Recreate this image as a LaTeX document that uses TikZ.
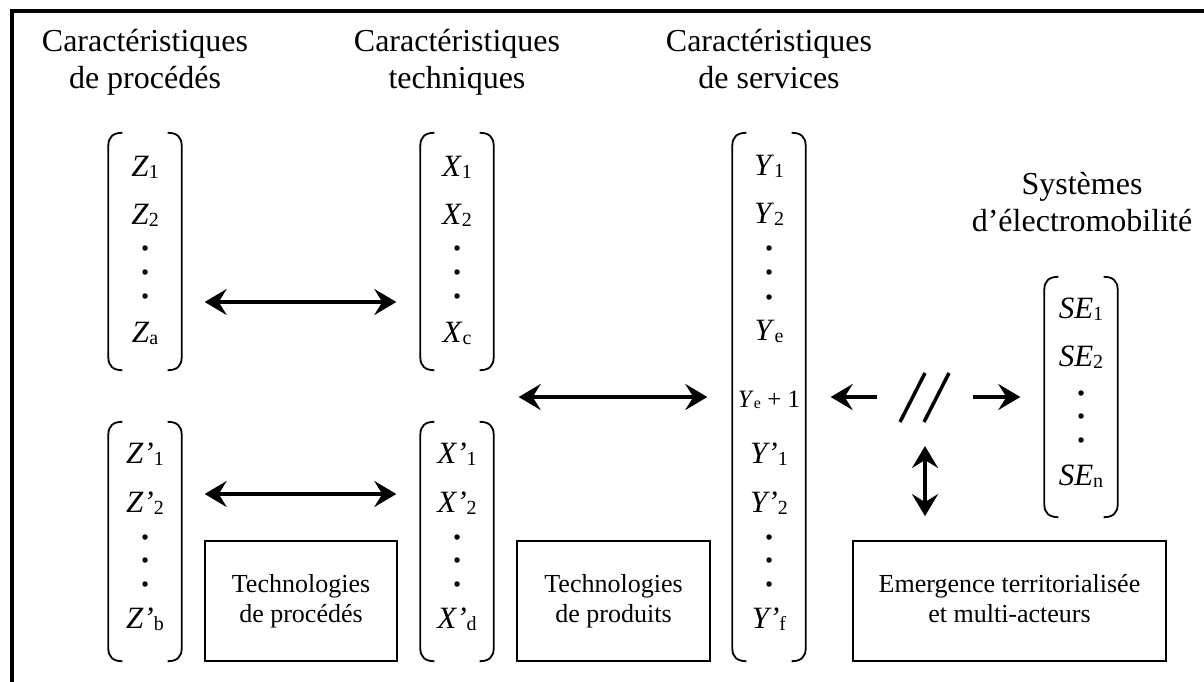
\documentclass[tikz,border=0pt]{standalone}
\usepackage{fontspec}
\setmainfont{Liberation Serif}
\usepackage{tikz}
\usetikzlibrary{arrows.meta}
\newcommand\hdrfont{\fontsize{32}{37}\selectfont}
\newcommand\entfont{\fontsize{31}{36}\selectfont}
\newcommand\boxfont{\fontsize{26}{30}\selectfont}
\newcommand\ix[2]{\textit{#1}\raisebox{-0.07em}{\fontsize{20}{20}\selectfont #2}}
\tikzset{
    hdr/.style={align=center, inner sep=0pt, font=\hdrfont},
    ent/.style={anchor=base, inner sep=0pt, font=\entfont},
    vdot/.style={circle, fill=black, inner sep=0pt, minimum size=5.5pt},
    mtx/.style={inner sep=0pt, minimum width=73pt},
    brkline/.style={line width=1.8pt},
    techbox/.style={draw, line width=1.8pt, align=center, font=\boxfont,
        inner sep=0pt, minimum height=120pt},
    % fleches doubles et simples
    dblarrow/.style={line width=3.5pt,
        {Stealth[length=22pt,width=26pt,inset=8pt]}-{Stealth[length=22pt,width=26pt,inset=8pt]}},
    onearrow/.style={line width=3.5pt, -{Stealth[length=22pt,width=26pt,inset=8pt]}},
    cutline/.style={line width=3.5pt}
}
\newcommand\brk[1]{%
    \draw[brkline] ([shift={(14,0)}]#1.north west) .. controls ([shift={(5,0)}]#1.north west) and ([shift={(0,4)}]#1.north west) .. ([shift={(0,13)}]#1.north west)
        -- ([shift={(0,-13)}]#1.south west) .. controls ([shift={(0,-4)}]#1.south west) and ([shift={(5,0)}]#1.south west) .. ([shift={(14,0)}]#1.south west);
    \draw[brkline] ([shift={(-14,0)}]#1.north east) .. controls ([shift={(-5,0)}]#1.north east) and ([shift={(0,4)}]#1.north east) .. ([shift={(0,13)}]#1.north east)
        -- ([shift={(0,-13)}]#1.south east) .. controls ([shift={(0,-4)}]#1.south east) and ([shift={(-5,0)}]#1.south east) .. ([shift={(-14,0)}]#1.south east);
}
\begin{document}
\begin{tikzpicture}[x=1pt,y=-1pt]
    \useasboundingbox (0,0) rectangle (1204,682);
    \draw[line width=4pt] (12,682) -- (12,11) -- (1204,11);

    \node[hdr] (hZ) at (145,63) {Caractéristiques\strut\\de procédés\strut};
    \node[hdr] (hX) at (457,63) {Caractéristiques\strut\\techniques\strut};
    \node[hdr] (hY) at (769,63) {Caractéristiques\strut\\de services\strut};
    \node[hdr] (hSE) at (1082,206) {Systèmes\strut\\d’électromobilité\strut};

    \node[mtx, minimum height=237pt] (Zm) at (145,251.5) {};
    \node[mtx, minimum height=237pt] (Xm) at (457,251.5) {};
    \node[mtx, minimum height=239pt] (Zpm) at (145,541.5) {};
    \node[mtx, minimum height=239pt] (Xpm) at (457,541.5) {};
    \node[mtx, minimum height=528pt] (Ym) at (769,397) {};
    \node[mtx, minimum height=240pt] (SEm) at (1081,397) {};
    \brk{Zm} \brk{Xm} \brk{Zpm} \brk{Xpm} \brk{Ym} \brk{SEm}

    \node[ent] (z1) at (145,176) {\ix{Z}{1}};
    \node[ent] (z2) at (145,224) {\ix{Z}{2}};
    \node[ent] (za) at (145,342) {\ix{Z}{a}};
    \path (145,248) node[vdot] (zd1) {} (145,272) node[vdot] (zd2) {} (145,296) node[vdot] (zd3) {};
    \node[ent] (x1) at (457,176) {\ix{X}{1}};
    \node[ent] (x2) at (457,224) {\ix{X}{2}};
    \node[ent] (xc) at (457,342) {\ix{X}{c}};
    \path (457,248) node[vdot] (xd1) {} (457,272) node[vdot] (xd2) {} (457,296) node[vdot] (xd3) {};

    \node[ent] (zp1) at (145,463) {\ix{Z’}{1}};
    \node[ent] (zp2) at (145,512) {\ix{Z’}{2}};
    \node[ent] (zpb) at (145,628) {\ix{Z’}{b}};
    \path (145,537) node[vdot] (zpd1) {} (145,560) node[vdot] (zpd2) {} (145,584) node[vdot] (zpd3) {};
    \node[ent] (xp1) at (457,463) {\ix{X’}{1}};
    \node[ent] (xp2) at (457,512) {\ix{X’}{2}};
    \node[ent] (xpd) at (457,628) {\ix{X’}{d}};
    \path (457,537) node[vdot] (xpd1) {} (457,560) node[vdot] (xpd2) {} (457,584) node[vdot] (xpd3) {};

    \node[ent] (y1) at (769,175) {\ix{Y}{1}};
    \node[ent] (y2) at (769,223) {\ix{Y}{2}};
    \node[ent] (ye) at (769,340) {\ix{Y}{e}};
    \path (769,248) node[vdot] (yd1) {} (769,272) node[vdot] (yd2) {} (769,297) node[vdot] (yd3) {};
    \node[ent, font=\fontsize{25}{25}\selectfont] (yeone) at (769,407)
        {\textit{Y}\raisebox{-0.07em}{\fontsize{16}{16}\selectfont e} + 1};
    \node[ent] (yp1) at (769,463) {\ix{Y’}{1}};
    \node[ent] (yp2) at (769,512) {\ix{Y’}{2}};
    \node[ent] (ypf) at (769,628) {\ix{Y’}{f}};
    \path (769,537) node[vdot] (ypd1) {} (769,560) node[vdot] (ypd2) {} (769,584) node[vdot] (ypd3) {};

    \node[ent] (se1) at (1081,318) {\ix{SE}{1}};
    \node[ent] (se2) at (1081,366) {\ix{SE}{2}};
    \node[ent] (sen) at (1081,485) {\ix{SE}{n}};
    \path (1081,393) node[vdot] (sed1) {} (1081,416) node[vdot] (sed2) {} (1081,440) node[vdot] (sed3) {};

    \node[techbox, minimum width=192pt] (tproc) at (301,601) {Technologies\strut\\de procédés\strut};
    \node[techbox, minimum width=193pt] (tprod) at (613.5,601) {Technologies\strut\\de produits\strut};
    \node[techbox, minimum width=313pt] (emerg) at (1009.5,601) {Emergence territorialisée\strut\\et multi-acteurs\strut};

    \draw[dblarrow] ([shift={(23,50.5)}]Zm.east) -- ([shift={(-24,50.5)}]Xm.west);
    \draw[dblarrow] ([shift={(23,-47.5)}]Zpm.east) -- ([shift={(-24,-47.5)}]Xpm.west);
    \draw[dblarrow] ([shift={(25,0)}]Xpm.east |- Ym.west) -- ([shift={(-25,0)}]Ym.west);

    \coordinate (cut) at (925,397);
    \draw[cutline] ([shift={(-25,25)}]cut) -- ([shift={(0,-24)}]cut);
    \draw[cutline] ([shift={(-1,25)}]cut) -- ([shift={(24,-24)}]cut);
    \draw[onearrow] ([shift={(-48,0)}]cut) -- ([shift={(25,0)}]Ym.east);
    \draw[onearrow] ([shift={(48,0)}]cut) -- ([shift={(-24,0)}]SEm.west);
    \draw[dblarrow] ([shift={(0,49)}]cut) -- ([shift={(0,-24)}]cut |- emerg.north);
\end{tikzpicture}
\end{document}
